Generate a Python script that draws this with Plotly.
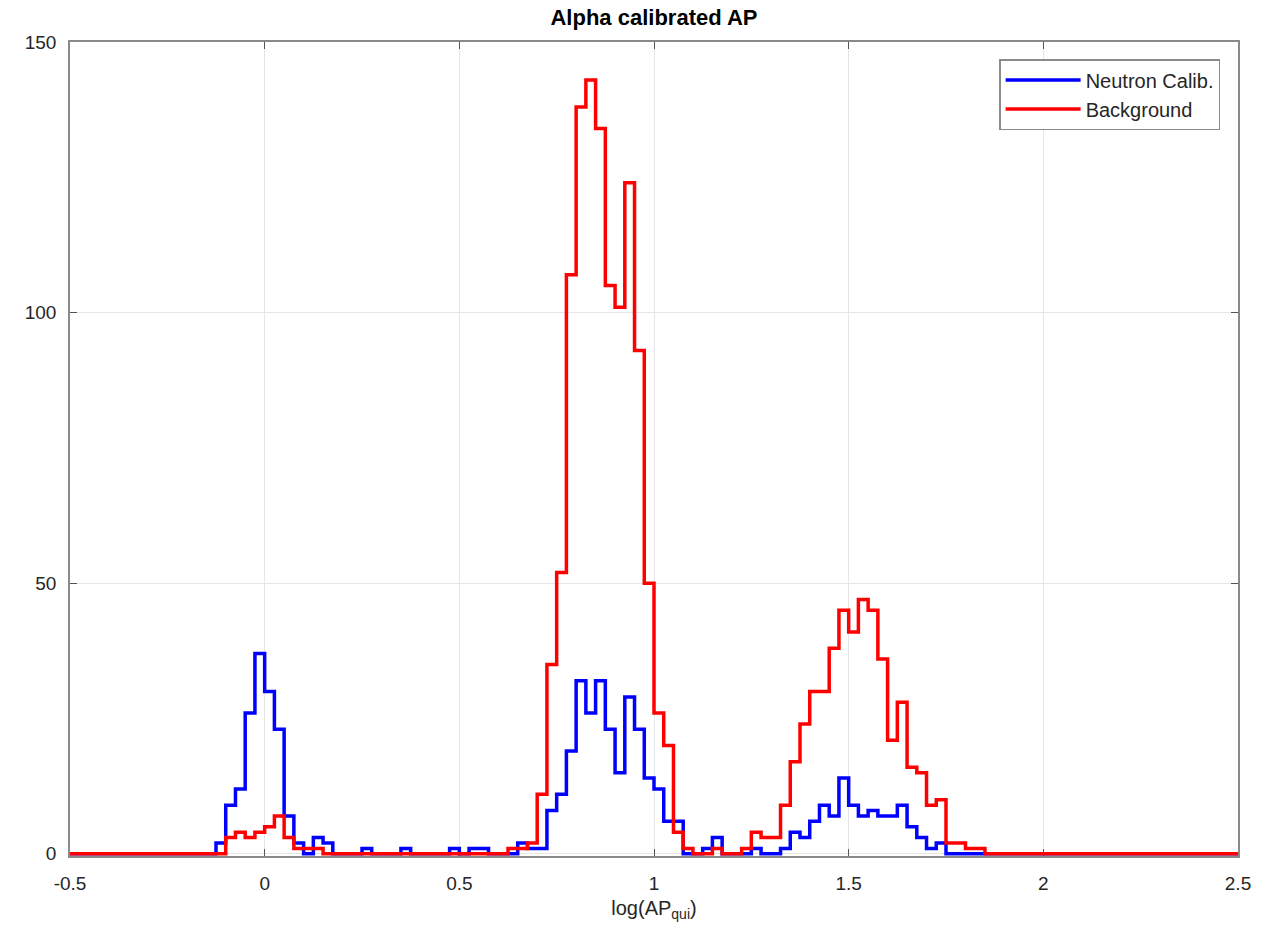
import numpy as np
import plotly.graph_objects as go

# Histogram binning (log(AP_qui)), 120 bins of width 0.025 from -0.5 to 2.5
BIN_START = -0.5
BIN_WIDTH = 0.025
N_BINS = 120

# Counts per bin
neutron_calib = [
    0, 0, 0, 0, 0, 0, 0, 0, 0, 0,      # -0.500 .. -0.275
    0, 0, 0, 0, 0, 2, 9, 12, 26, 37,   # -0.250 .. -0.025
    30, 23, 7, 2, 0, 3, 2, 0, 0, 0,    #  0.000 ..  0.225
    1, 0, 0, 0, 1, 0, 0, 0, 0, 1,      #  0.250 ..  0.475
    0, 1, 1, 0, 0, 0, 2, 1, 1, 8,      #  0.500 ..  0.725
    11, 19, 32, 26, 32, 23, 15, 29, 23, 14,  # 0.750 .. 0.975
    12, 6, 6, 0, 0, 1, 3, 0, 0, 0,     #  1.000 ..  1.225
    1, 0, 0, 1, 4, 3, 6, 9, 7, 14,     #  1.250 ..  1.475
    9, 7, 8, 7, 7, 9, 5, 3, 1, 2,      #  1.500 ..  1.725
    0, 0, 0, 0, 0, 0, 0, 0, 0, 0,      #  1.750 ..  1.975
    0, 0, 0, 0, 0, 0, 0, 0, 0, 0,      #  2.000 ..  2.225
    0, 0, 0, 0, 0, 0, 0, 0, 0, 0,      #  2.250 ..  2.475
]

background = [
    0, 0, 0, 0, 0, 0, 0, 0, 0, 0,      # -0.500 .. -0.275
    0, 0, 0, 0, 0, 0, 3, 4, 3, 4,      # -0.250 .. -0.025
    5, 7, 3, 1, 1, 1, 0, 0, 0, 0,      #  0.000 ..  0.225
    0, 0, 0, 0, 0, 0, 0, 0, 0, 0,      #  0.250 ..  0.475
    0, 0, 0, 0, 0, 1, 1, 2, 11, 35,    #  0.500 ..  0.725
    52, 107, 138, 143, 134, 105, 101, 124, 93, 50,  # 0.750 .. 0.975
    26, 20, 4, 1, 0, 0, 1, 0, 0, 1,    #  1.000 ..  1.225
    4, 3, 3, 9, 17, 24, 30, 30, 38, 45,  # 1.250 .. 1.475
    41, 47, 45, 36, 21, 28, 16, 15, 9, 10,  # 1.500 .. 1.725
    2, 2, 1, 1, 0, 0, 0, 0, 0, 0,      #  1.750 ..  1.975
    0, 0, 0, 0, 0, 0, 0, 0, 0, 0,      #  2.000 ..  2.225
    0, 0, 0, 0, 0, 0, 0, 0, 0, 0,      #  2.250 ..  2.475
]

series_names = ["Neutron Calib.", "Background"]
series_colors = ["#0000ff", "#ff0000"]

x_ticks = [-0.5, 0, 0.5, 1, 1.5, 2, 2.5]
x_tick_labels = ["-0.5", "0", "0.5", "1", "1.5", "2", "2.5"]
y_ticks = [0, 50, 100, 150]
y_tick_labels = ["0", "50", "100", "150"]

edges = BIN_START + BIN_WIDTH * np.arange(N_BINS + 1)

fig = go.Figure()
for name, counts, color in zip(series_names, [neutron_calib, background], series_colors):
    y = list(counts) + [counts[-1]]
    fig.add_trace(go.Scatter(
        x=edges, y=y, mode="lines", name=name,
        line=dict(color=color, width=3.5, shape="hv"),
        hoverinfo="skip",
    ))

FONT = "Liberation Sans, Arial, Helvetica, sans-serif"
axis_common = dict(
    showline=True, linecolor="#8a8a8a", linewidth=1.5, mirror="ticks",
    ticks="inside", ticklen=7, tickwidth=1, tickcolor="#555555",
    showgrid=True, gridcolor="#e6e6e6", gridwidth=1,
    zeroline=False, layer="below traces",
    tickfont=dict(family=FONT, size=19, color="#262626"),
)

fig.update_layout(
    width=1263, height=936,
    margin=dict(l=70, r=20, t=42, b=80),
    paper_bgcolor="white", plot_bgcolor="white",
    title=dict(text="<b>Alpha calibrated AP</b>", x=0.5, xref="paper",
               y=1, yref="paper", yanchor="bottom", pad=dict(b=17),
               font=dict(family=FONT, size=22, color="#000000")),
    xaxis=dict(range=[-0.5, 2.5], tickvals=x_ticks, ticktext=x_tick_labels,
               ticklabelstandoff=9,
               title=dict(text="log(AP<sub>qui</sub>)", standoff=8,
                          font=dict(family=FONT, size=20, color="#262626")),
               **axis_common),
    yaxis=dict(range=[-0.4, 150], tickvals=y_ticks, ticktext=y_tick_labels,
               ticklabelstandoff=8, **axis_common),
    legend=dict(x=0.9847, xanchor="right", y=0.979, yanchor="top",
                bgcolor="white", bordercolor="#8a8a8a", borderwidth=1.5,
                font=dict(family=FONT, size=20, color="#262626"),
                itemwidth=75, entrywidth=230, entrywidthmode="pixels",
                tracegroupgap=0),
    showlegend=True,
)

fig.write_html("out.html")
